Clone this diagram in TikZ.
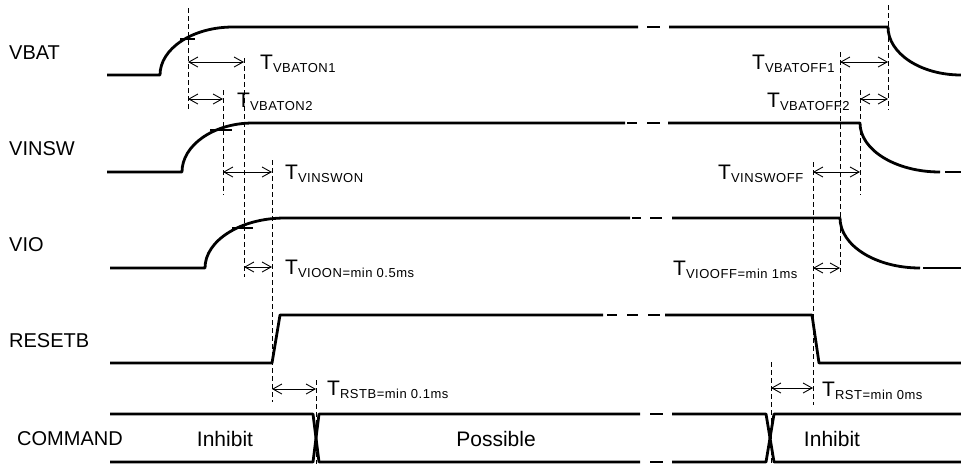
\documentclass[tikz,border=0pt]{standalone}
\usepackage{fontspec}
\setmainfont{Liberation Sans}
\newfontfamily\subfont[LetterSpace=4]{Liberation Sans}
\usetikzlibrary{arrows.meta}
\newcommand\tlab[1]{{\fontsize{21}{21}\selectfont T}\raisebox{-2.5pt}{\subfont\fontsize{13}{13}\selectfont #1}}
\begin{document}
\begin{tikzpicture}[x=1pt,y=-1pt,
 sig/.style={line width=2.8pt, line join=round},
 guide/.style={line width=0.9pt, dash pattern=on 5pt off 3pt},
 dim/.style={line width=0.9pt, {Straight Barb[length=9pt,width=10pt]}-{Straight Barb[length=9pt,width=10pt]}},
 tickm/.style={line width=1.6pt},
 lbl/.style={inner sep=0pt, anchor=base west, font=\fontsize{20}{20}\selectfont},
 tl/.style={inner sep=0pt, anchor=base west},
 state/.style={inner sep=0pt, anchor=base, font=\fontsize{21}{21}\selectfont}]
\useasboundingbox (0,0) rectangle (961,464);

% signal names
\node[lbl] (nVBAT) at (9,59) {VBAT};
\node[lbl] (nVINSW) at (9,155) {VINSW};
\node[lbl] (nVIO) at (9,251) {VIO};
\node[lbl] (nRESETB) at (9,347) {RESETB};
\node[lbl] (nCMD) at (17,445) {COMMAND};

% VBAT
\draw[sig] (107,75) -- (160,75) .. controls (160,48.5) and (192.7,27) .. (233,27) -- (638,27);
\draw[sig] (647,27) -- (660,27);
\draw[sig] (669,27) -- (888,27) .. controls (888,53.5) and (920.7,75) .. (961,75);
% VINSW
\draw[sig] (107,172) -- (182,172) .. controls (182,145) and (213.8,123) .. (253,123) -- (625,123);
\draw[sig] (627,123) -- (637,123);
\draw[sig] (647,123) -- (660,123);
\draw[sig] (668,123) -- (860,123) .. controls (860,150) and (895.8,172) .. (940,172);
\draw[sig] (945,172) -- (961,172);
% VIO
\draw[sig] (110,268) -- (205,268) .. controls (205,240.4) and (240.8,218) .. (285,218) -- (630,218);
\draw[sig] (632,218) -- (641,218);
\draw[sig] (650,218) -- (662,218);
\draw[sig] (672,218) -- (840,218) .. controls (840,245.6) and (875.8,268) .. (920,268);
\draw[sig] (923,268) -- (961,268);
% RESETB
\draw[sig] (110,363) -- (272,363) -- (280,315) -- (603,315);
\draw[sig] (607,315) -- (617,315);
\draw[sig] (627,315) -- (638,315);
\draw[sig] (648,315) -- (660,315);
\draw[sig] (665,315) -- (812,315) -- (819,363) -- (961,363);
% COMMAND
\draw[sig] (110,414) -- (313,414) -- (319,462) -- (640,462);
\draw[sig] (110,462) -- (313,462) -- (319,414) -- (640,414);
\draw[sig] (650,414) -- (663,414);
\draw[sig] (650,462) -- (663,462);
\draw[sig] (672,414) -- (766,414) -- (774,462) -- (961,462);
\draw[sig] (672,462) -- (766,462) -- (774,414) -- (961,414);

% level ticks
\draw[tickm] (180,39) -- (195,39);
\draw[tickm] (210,130) -- (232,130);
\draw[tickm] (232,228) -- (253,228);

% guide lines
\coordinate (g1t) at (188,8);   \coordinate (g1b) at (188,110);
\coordinate (g2t) at (244,58);  \coordinate (g2b) at (244,277);
\coordinate (g3t) at (223,90);  \coordinate (g3b) at (223,195);
\coordinate (g4t) at (272,160); \coordinate (g4b) at (272,402);
\coordinate (g5t) at (316,380); \coordinate (g5b) at (316,464);
\coordinate (g6t) at (771,362); \coordinate (g6b) at (771,464);
\coordinate (g7t) at (813,162); \coordinate (g7b) at (813,405);
\coordinate (g8t) at (840,52);  \coordinate (g8b) at (840,272);
\coordinate (g9t) at (860,90);  \coordinate (g9b) at (860,195);
\coordinate (g10t) at (888,5);  \coordinate (g10b) at (888,110);
\foreach \g in {1,...,10} \draw[guide] (g\g t) -- (g\g b);

% dimension arrows
\coordinate (a1l) at (188,62);  \coordinate (a1r) at (244,62);
\coordinate (a2l) at (188,99);  \coordinate (a2r) at (223,99);
\coordinate (a3l) at (223,172); \coordinate (a3r) at (272,172);
\coordinate (a4l) at (244,267); \coordinate (a4r) at (272,267);
\coordinate (a5l) at (272,389); \coordinate (a5r) at (316,389);
\coordinate (a6l) at (840,62);  \coordinate (a6r) at (888,62);
\coordinate (a7l) at (860,99);  \coordinate (a7r) at (888,99);
\coordinate (a8l) at (813,172); \coordinate (a8r) at (860,172);
\coordinate (a9l) at (813,268); \coordinate (a9r) at (840,268);
\coordinate (a10l) at (771,388); \coordinate (a10r) at (813,388);
\foreach \a in {1,...,10} \draw[dim] (a\a l) -- (a\a r);

% timing labels
\node[tl] (tVBATON1) at (260,69.5) {\tlab{VBATON1}};
\node[tl] (tVBATON2) at (237,107.5) {\tlab{VBATON2}};
\node[tl] (tVINSWON) at (285,179.5) {\tlab{VINSWON}};
\node[tl] (tVIOON) at (285,274.5) {\tlab{VIOON=min 0.5ms}};
\node[tl] (tRSTB) at (327,395.5) {\tlab{RSTB=min 0.1ms}};
\node[tl] (tRST) at (822,396.5) {\tlab{RST=min 0ms}};
\node[tl] (tVINSWOFF) at (718,179.5) {\tlab{VINSWOFF}};
\node[tl] (tVIOOFF) at (673,275.5) {\tlab{VIOOFF=min 1ms}};
\node[tl] (tVBATOFF1) at (752,69.5) {\tlab{VBATOFF1}};
\node[tl] (tVBATOFF2) at (767,107.5) {\tlab{VBATOFF2}};

% command states
\node[state] (sInh1) at (225,446) {Inhibit};
\node[state] (sPos) at (496,446) {Possible};
\node[state] (sInh2) at (832,446) {Inhibit};
\end{tikzpicture}
\end{document}
